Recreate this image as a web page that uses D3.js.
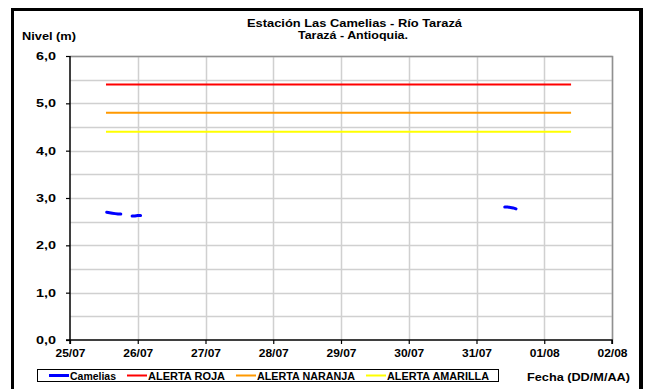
<!DOCTYPE html>
<html><head><meta charset="utf-8">
<script src="https://cdn.jsdelivr.net/npm/d3@7"></script>
<style>body{margin:0;background:#fff}svg{display:block}text{font-family:"Liberation Sans",Arial,sans-serif;font-weight:bold;fill:#000}</style>
</head><body>
<script>
// ---- data ----
const dayLabels = ["25/07","26/07","27/07","28/07","29/07","30/07","31/07","01/08","02/08"];
const yTicks = [0,1,2,3,4,5,6];
const yTickLabels = ["0,0","1,0","2,0","3,0","4,0","5,0","6,0"];
// hours since 25/07 00:00 ; null = gap
const camHours  = [13,14,15,16,17,18,19, 22,23,24,25,26, 154,155,156,157,158];
const camValues = [2.70,2.69,2.68,2.67,2.66,2.66,null, 2.62,2.62,2.63,2.63,null, 2.81,2.81,2.80,2.79,2.77];
const alertHours = [12.75, 177.5];
const alertRoja = [5.4, 5.4];
const alertNaranja = [4.8, 4.8];
const alertAmarilla = [4.4, 4.4];
const seriesNames = ["Camelias","ALERTA ROJA","ALERTA NARANJA","ALERTA AMARILLA"];
const seriesColors = ["#0000ff","#ff0000","#ff9900","#ffff00"];

const W=646,H=389;
const svg=d3.select("body").append("svg").attr("width",W).attr("height",H);
// outer frame
svg.append("rect").attr("x",12.5).attr("y",9.5).attr("width",628).attr("height",400)
  .attr("fill","none").attr("stroke","#000").attr("stroke-width",3);
svg.append("rect").attr("x",640).attr("y",8).attr("width",3).attr("height",400).attr("fill","#000");

const L=70,R=612,T=56,B=340;
const x=d3.scaleLinear().domain([0,192]).range([L,R]);
const y=d3.scaleLinear().domain([0,6]).range([B,T]);

// grid
const g=svg.append("g");
d3.range(0.5,6.01,0.5).forEach(v=>{
  g.append("line").attr("x1",L).attr("x2",R).attr("y1",Math.round(y(v))+0.5).attr("y2",Math.round(y(v))+0.5)
   .attr("stroke","#d0d0d0").attr("stroke-width",1.5);
});
d3.range(1,9).forEach(d=>{
  g.append("line").attr("x1",Math.round(x(d*24))+0.5).attr("x2",Math.round(x(d*24))+0.5).attr("y1",T).attr("y2",B)
   .attr("stroke","#d0d0d0").attr("stroke-width",1.5);
});
// plot border top/right
svg.append("path").attr("d",`M${L},${T+0.5}H${R+0.5}V${B}`).attr("fill","none").attr("stroke","#909090").attr("stroke-width",1.5);

function fit(sel,len){ sel.attr("textLength",len).attr("lengthAdjust","spacingAndGlyphs"); return sel; }

// axes
const yAxis=d3.axisLeft(y).tickValues(yTicks).tickFormat((d,i)=>yTickLabels[i]).tickSize(4).tickPadding(10);
const ya=svg.append("g").attr("transform",`translate(${L},0)`).call(yAxis);
const xAxis=d3.axisBottom(x).tickValues(d3.range(0,9).map(d=>d*24)).tickFormat((d,i)=>dayLabels[i]).tickSize(4).tickPadding(5);
const xa=svg.append("g").attr("transform",`translate(0,${B})`).call(xAxis);
[ya,xa].forEach(a=>{
  a.select(".domain").attr("stroke","#000").attr("stroke-width",1.5);
  a.selectAll(".tick line").attr("stroke","#000").attr("stroke-width",1.2);
  a.selectAll("text").attr("font-size","11px").attr("font-weight","bold").attr("fill","#000").attr("font-family",'"Liberation Sans",Arial,sans-serif');
});
fit(ya.selectAll("text"),20);
fit(xa.selectAll("text"),30);
ya.select(".domain").attr("d",`M-4,${B}H0V${T}`);
xa.select(".domain").attr("d",`M${L},4V0H${R}V4`);

// series
const line=d3.line().defined(d=>d[1]!=null).x(d=>x(d[0])).y(d=>y(d[1]));
const alerts=[alertRoja,alertNaranja,alertAmarilla];
alerts.forEach((vals,i)=>{
  svg.append("path").datum(alertHours.map((h,j)=>[h,vals[j]])).attr("d",line)
    .attr("fill","none").attr("stroke",seriesColors[i+1]).attr("stroke-width",2);
});
svg.append("path").datum(camHours.map((h,j)=>[h,camValues[j]])).attr("d",line)
  .attr("fill","none").attr("stroke",seriesColors[0]).attr("stroke-width",3).attr("stroke-linecap","round");

// titles
fit(svg.append("text").attr("x",247).attr("y",27).attr("font-size","11px").text("Estación Las Camelias - Río Tarazá"),215);
fit(svg.append("text").attr("x",298).attr("y",38.5).attr("font-size","11px").text("Tarazá - Antioquia."),110);
fit(svg.append("text").attr("x",22).attr("y",40).attr("font-size","11px").text("Nivel (m)"),54);
fit(svg.append("text").attr("x",527).attr("y",381).attr("font-size","11px").text("Fecha (DD/M/AA)"),103);

// legend
svg.append("rect").attr("x",37.5).attr("y",369.5).attr("width",461).attr("height",12)
  .attr("fill","#fff").attr("stroke","#000").attr("stroke-width",1);
const legX=[49,127,236,366];
const legW=[46,77,98,102];
seriesNames.forEach((n,i)=>{
  svg.append("line").attr("x1",legX[i]).attr("x2",legX[i]+20).attr("y1",375.5).attr("y2",375.5)
    .attr("stroke",seriesColors[i]).attr("stroke-width",i==0?3:2);
  fit(svg.append("text").attr("x",legX[i]+21).attr("y",379.5).attr("font-size","10px").text(n),legW[i]);
});
</script>
</body></html>
